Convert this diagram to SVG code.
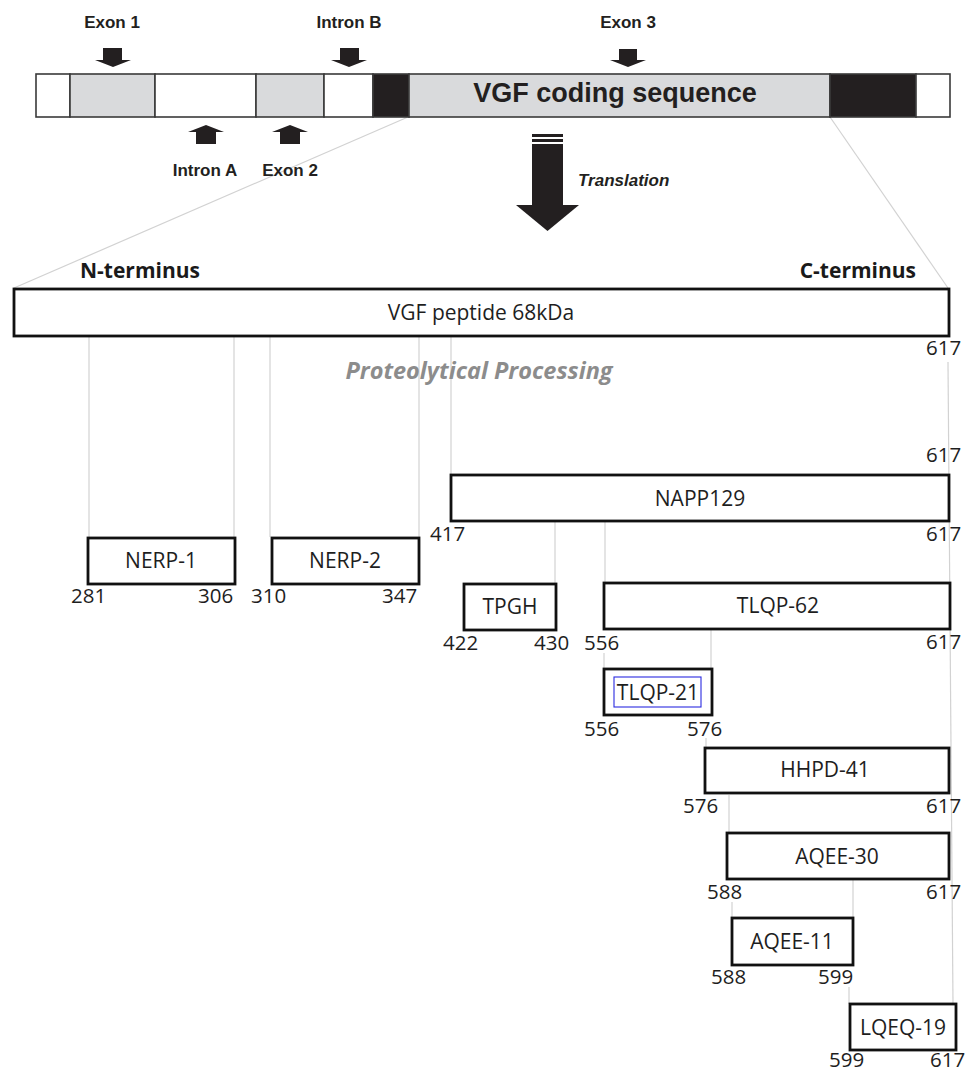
<svg xmlns="http://www.w3.org/2000/svg" width="967" height="1073" viewBox="0 0 967 1073">
<style>
.seg{stroke:#3a3a3a;stroke-width:1.6}
.lg{fill:#d9dadc}
.dk{fill:#231f20}
.wh{fill:#ffffff}
.arr{fill:#231f20}
.gl{font-family:"Liberation Sans",Arial,sans-serif;font-weight:bold;font-size:17px;fill:#231f20}
.box{fill:#ffffff;stroke:#111;stroke-width:2.8}
.lbl{font-family:"Open Sans","Noto Sans",sans-serif;font-size:21px;fill:#1e1e1e}
.num{font-family:"Open Sans","Noto Sans",sans-serif;font-size:20.5px;fill:#1e1e1e}
.ter{font-family:"Open Sans","Noto Sans",sans-serif;font-size:21px;font-weight:bold;fill:#1a1a1a}
.con{stroke:#d2d2d2;stroke-width:1.2;fill:none}
</style>
<rect width="967" height="1073" fill="#ffffff"/>

<g id="connectors">
  <line class="con" x1="408" y1="117" x2="14" y2="288"/>
  <line class="con" x1="830" y1="117" x2="948" y2="288"/>
  <line class="con" x1="89" y1="337" x2="89" y2="537"/>
  <line class="con" x1="234" y1="337" x2="234" y2="537"/>
  <line class="con" x1="270" y1="337" x2="270" y2="537"/>
  <line class="con" x1="419" y1="337" x2="419" y2="537"/>
  <line class="con" x1="451" y1="337" x2="451" y2="474"/>
  <line class="con" x1="948" y1="362" x2="953" y2="1004"/>
  <line class="con" x1="555" y1="521" x2="555" y2="583"/>
  <line class="con" x1="605" y1="521" x2="605" y2="582"/>
  <line class="con" x1="604" y1="653" x2="604" y2="669"/>
  <line class="con" x1="711" y1="628" x2="711" y2="669"/>
  <line class="con" x1="706" y1="738" x2="706" y2="747"/>
  <line class="con" x1="729" y1="795" x2="729" y2="833"/>
  <line class="con" x1="732" y1="902" x2="732" y2="918"/>
  <line class="con" x1="853" y1="879" x2="853" y2="918"/>
  <line class="con" x1="849" y1="987" x2="849" y2="1004"/>
</g>

<g id="gene-bar">
  <rect class="seg wh" x="36" y="74" width="34" height="43"/>
  <rect class="seg lg" x="70" y="74" width="85" height="43"/>
  <rect class="seg wh" x="155" y="74" width="101" height="43"/>
  <rect class="seg lg" x="256" y="74" width="68" height="43"/>
  <rect class="seg wh" x="324" y="74" width="49" height="43"/>
  <rect class="seg dk" x="373" y="74" width="36" height="43"/>
  <rect class="seg lg" x="409" y="74" width="421" height="43"/>
  <rect class="seg dk" x="830" y="74" width="86" height="43"/>
  <rect class="seg wh" x="916" y="74" width="34" height="43"/>
  <text x="615" y="102" text-anchor="middle" font-family="Liberation Sans, Arial, sans-serif" font-weight="bold" font-size="27" fill="#231f20">VGF coding sequence</text>
</g>

<g id="exon1">
  <text class="gl" x="112" y="28" text-anchor="middle">Exon 1</text>
  <path class="arr" d="M103,48H122V60H131L113,67L95,60H103Z"/>
</g>
<g id="intron-b">
  <text class="gl" x="349" y="28" text-anchor="middle">Intron B</text>
  <path class="arr" d="M340,48H359V60H367L349,67L331,60H340Z"/>
</g>
<g id="exon3">
  <text class="gl" x="628" y="28" text-anchor="middle">Exon 3</text>
  <path class="arr" d="M619,49H637V60H646L628,67L610,60H619Z"/>
</g>
<g id="intron-a">
  <path class="arr" d="M206,125L224,132H216V144H196V132H188Z"/>
  <text class="gl" x="205" y="176" text-anchor="middle">Intron A</text>
</g>
<g id="exon2">
  <path class="arr" d="M290,125L308,132H300V144H280V132H272Z"/>
  <text class="gl" x="290" y="176" text-anchor="middle">Exon 2</text>
</g>

<g id="translation">
  <rect class="arr" x="532" y="134" width="31" height="3"/>
  <rect class="arr" x="532" y="139" width="31" height="3"/>
  <rect class="arr" x="532" y="144" width="31" height="62"/>
  <path class="arr" d="M516,205H579L547.5,231Z"/>
  <text x="578" y="186" font-family="Liberation Sans, Arial, sans-serif" font-weight="bold" font-style="italic" font-size="17" fill="#231f20">Translation</text>
</g>

<g id="vgf-peptide">
  <text class="ter" x="80" y="278">N-terminus</text>
  <text class="ter" x="916" y="278" text-anchor="end">C-terminus</text>
  <rect class="box" x="14" y="289" width="935" height="47"/>
  <text class="lbl" x="481" y="320" text-anchor="middle">VGF peptide 68kDa</text>
  <text class="num" x="926" y="355">617</text>
</g>

<g id="proteolysis">
  <text x="479" y="379" text-anchor="middle" font-family="Open Sans, Noto Sans, sans-serif" font-weight="bold" font-style="italic" font-size="23.5" fill="#8c8c8c">Proteolytical Processing</text>
</g>

<g id="nerp1">
  <rect class="box" x="88" y="538" width="147" height="46"/>
  <text class="lbl" x="161" y="568" text-anchor="middle">NERP-1</text>
  <text class="num" x="71" y="603">281</text>
  <text class="num" x="198" y="603">306</text>
</g>
<g id="nerp2">
  <rect class="box" x="272" y="538" width="147" height="46"/>
  <text class="lbl" x="345" y="568" text-anchor="middle">NERP-2</text>
  <text class="num" x="251" y="603">310</text>
  <text class="num" x="382" y="603">347</text>
</g>
<g id="napp129">
  <text class="num" x="926" y="462">617</text>
  <rect class="box" x="451" y="475" width="498" height="46"/>
  <text class="lbl" x="700" y="506" text-anchor="middle">NAPP129</text>
  <text class="num" x="430" y="541">417</text>
  <text class="num" x="926" y="541">617</text>
</g>
<g id="tpgh">
  <rect class="box" x="464" y="584" width="92" height="46"/>
  <text class="lbl" x="510" y="614" text-anchor="middle">TPGH</text>
  <text class="num" x="443" y="650">422</text>
  <text class="num" x="534" y="650">430</text>
</g>
<g id="tlqp62">
  <rect class="box" x="604" y="583" width="346" height="46"/>
  <text class="lbl" x="778" y="613" text-anchor="middle">TLQP-62</text>
  <text class="num" x="584" y="650">556</text>
  <text class="num" x="926" y="649">617</text>
</g>
<g id="tlqp21">
  <rect class="box" x="604" y="669" width="108" height="46"/>
  <rect x="614" y="677" width="87" height="30" fill="none" stroke="#2a2ae0" stroke-width="1.1"/>
  <text class="lbl" x="658" y="700" text-anchor="middle">TLQP-21</text>
  <text class="num" x="584" y="736">556</text>
  <text class="num" x="687" y="736">576</text>
</g>
<g id="hhpd41">
  <rect class="box" x="705" y="748" width="244" height="45"/>
  <text class="lbl" x="825" y="777" text-anchor="middle">HHPD-41</text>
  <text class="num" x="683" y="813">576</text>
  <text class="num" x="926" y="813">617</text>
</g>
<g id="aqee30">
  <rect class="box" x="727" y="833" width="222" height="46"/>
  <text class="lbl" x="837" y="864" text-anchor="middle">AQEE-30</text>
  <text class="num" x="707" y="899">588</text>
  <text class="num" x="926" y="899">617</text>
</g>
<g id="aqee11">
  <rect class="box" x="732" y="918" width="121" height="47"/>
  <text class="lbl" x="792" y="949" text-anchor="middle">AQEE-11</text>
  <text class="num" x="711" y="984">588</text>
  <text class="num" x="818" y="984">599</text>
</g>
<g id="lqeq19">
  <rect class="box" x="850" y="1004" width="106" height="46"/>
  <text class="lbl" x="903" y="1035" text-anchor="middle">LQEQ-19</text>
  <text class="num" x="829" y="1067">599</text>
  <text class="num" x="930" y="1067">617</text>
</g>
</svg>
